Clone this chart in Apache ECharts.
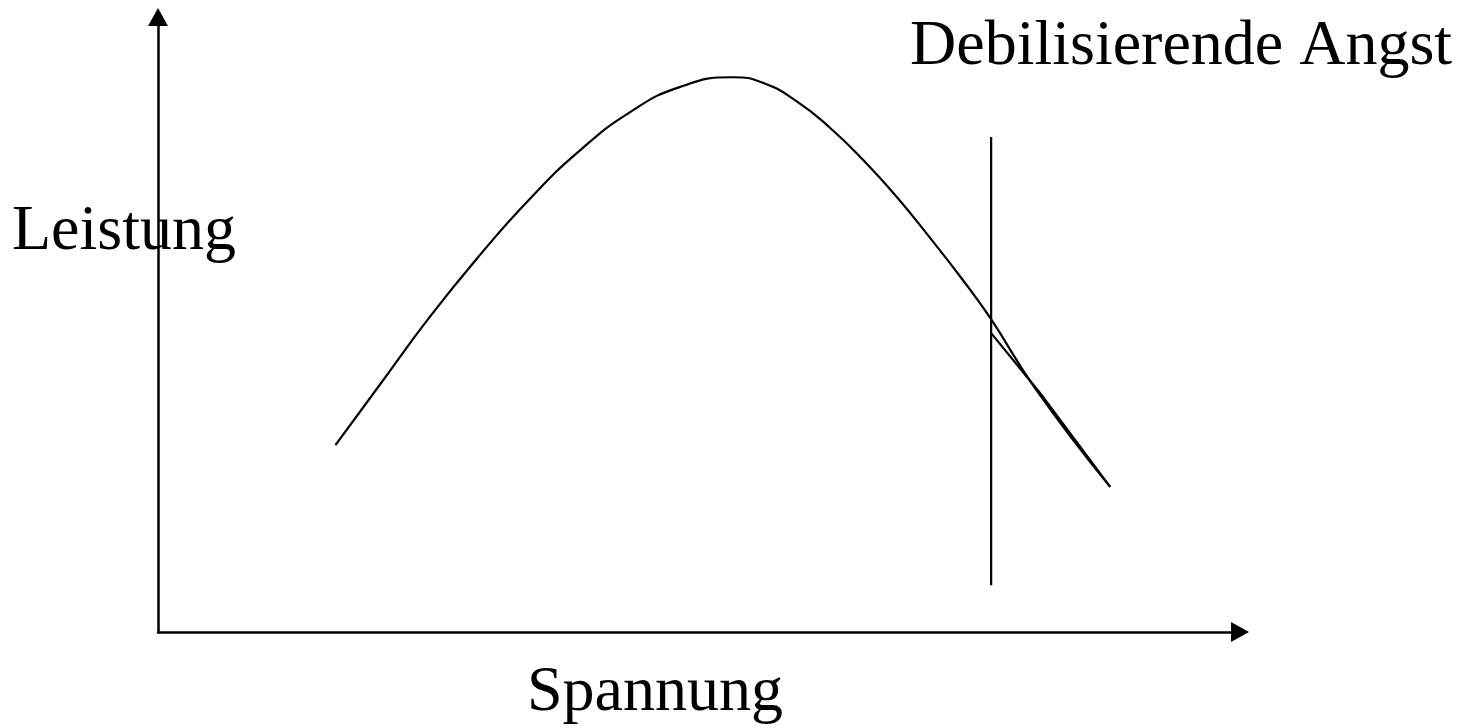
<!DOCTYPE html>
<html>
<head>
<meta charset="utf-8">
<title>Leistung / Spannung</title>
<script src="https://cdn.jsdelivr.net/npm/echarts@6/dist/echarts.min.js"></script>
<style>
  html, body { margin: 0; padding: 0; background: #fff; }
  #main { width: 1466px; height: 728px; }
</style>
</head>
<body>
<div id="main"></div>
<script>
var spannung = [16.4, 20.5, 25.1, 29.8, 34.4, 39.0, 43.6, 48.2, 53.1, 55.9, 59.1, 62.1, 65.2, 68.3, 71.3, 74.4, 76.9, 81.2, 88.0];
var leistung = [30.4, 40.2, 51.2, 61.4, 70.5, 78.3, 84.5, 88.6, 90.2, 89.3, 86.2, 82.0, 76.7, 70.7, 64.2, 57.2, 51.1, 39.3, 23.6];
// zweite, kurze Linie hinter der Grenze
var spannung2 = [77.0, 81.5, 88.0];
var leistung2 = [48.6, 38.9, 23.6];
// senkrechte Grenzlinie
var grenzeX = [77.0, 77.0];
var grenzeY = [7.6, 80.5];

var labels = ['Leistung', 'Spannung', 'Debilisierende Angst'];

function pairs(xs, ys) {
  var out = [];
  for (var i = 0; i < xs.length; i++) out.push([xs[i], ys[i]]);
  return out;
}

var myChart = echarts.init(document.getElementById('main'));
var lineStyle = { color: '#000', width: 2.2 };
var fontFamily = '"Liberation Serif", "Times New Roman", serif';

var option = {
  animation: false,
  grid: { left: 158, right: 226, top: 17, bottom: 96 },
  xAxis: {
    type: 'value', min: 0, max: 100,
    axisLine: { show: true, onZero: false, symbol: ['none', 'triangle'], symbolSize: [20, 18],
      lineStyle: { color: '#000', width: 2.5 } },
    axisTick: { show: false }, axisLabel: { show: false }, splitLine: { show: false }
  },
  yAxis: {
    type: 'value', min: 0, max: 100,
    axisLine: { show: true, onZero: false, symbol: ['none', 'triangle'], symbolSize: [20, 18],
      lineStyle: { color: '#000', width: 2.5 } },
    axisTick: { show: false }, axisLabel: { show: false }, splitLine: { show: false }
  },
  graphic: [
    { type: 'text', left: 12, top: 200, z: 1,
      style: { text: labels[0], font: '64px ' + fontFamily, fill: '#000' } },
    { type: 'text', left: 527, top: 661, z: 1,
      style: { text: labels[1], font: '64px ' + fontFamily, fill: '#000' } },
    { type: 'text', left: 910, top: 15, z: 1,
      style: { text: labels[2], font: '64px ' + fontFamily, fill: '#000' } }
  ],
  series: [
    { type: 'line', data: pairs(spannung, leistung), smooth: 0.5, smoothMonotone: 'none', showSymbol: false, lineStyle: lineStyle, z: 3 },
    { type: 'line', data: pairs(spannung2, leistung2), smooth: false, showSymbol: false, lineStyle: lineStyle, z: 3 },
    { type: 'line', data: pairs(grenzeX, grenzeY), showSymbol: false, lineStyle: lineStyle, z: 3 }
  ]
};

myChart.setOption(option);
</script>
</body>
</html>
